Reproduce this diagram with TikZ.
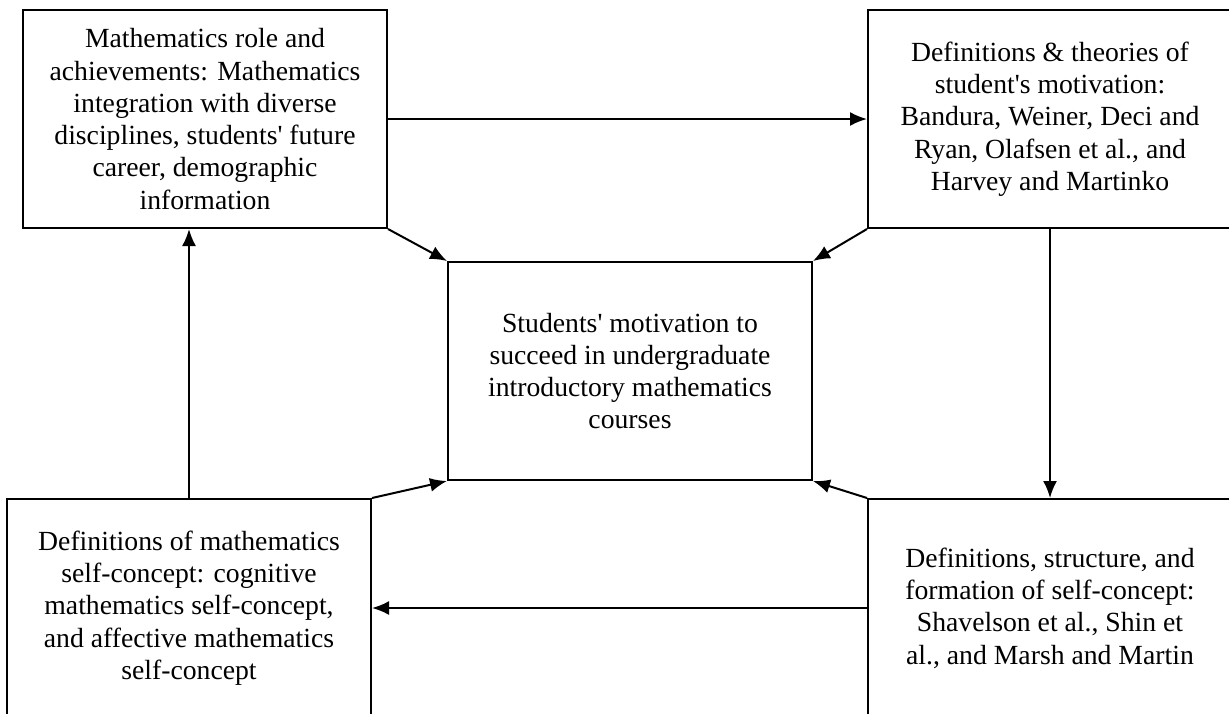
\documentclass[tikz,border=0pt]{standalone}
\usepackage{fontspec}
\setmainfont{Liberation Serif}
\usetikzlibrary{arrows.meta,positioning}
\newcommand{\q}{\textquotesingle}

\begin{document}
\begin{tikzpicture}[x=0.5pt, y=-0.5pt,
		box/.style={draw, line width=1pt, minimum width=182pt, minimum height=109pt,
			inner sep=0pt, align=center, font=\fontsize{13.85}{16.15}\selectfont},
		arr/.style={-{Latex[length=8.5pt,width=7pt]}, line width=1pt}]
		\useasboundingbox (0, 0) rectangle (1229, 713);
		\path (205, 119)   node[box] (role) {Mathematics role and\\achievements: Mathematics\\integration with diverse\\disciplines, students\q{} future\\career, demographic\\information}
		      (1050, 119)  node[box] (theo) {Definitions \& theories of\\student\q{}s motivation:\\Bandura, Weiner, Deci and\\Ryan, Olafsen et al., and\\Harvey and Martinko}
		      (630, 371)   node[box] (motiv) {Students\q{} motivation to\\succeed in undergraduate\\introductory mathematics\\courses}
		      (189, 608)   node[box] (mself) {Definitions of mathematics\\self-concept: cognitive\\mathematics self-concept,\\and affective mathematics\\self-concept}
		      (1050, 608)  node[box] (form) {Definitions, structure, and\\formation of self-concept:\\Shavelson et al., Shin et\\al., and Marsh and Martin};
		
		\draw[arr] (role) -- (theo);
		\draw[arr] (theo) -- (form);
		\draw[arr] (form) -- (mself);
		\draw[arr] (mself.north) -- (mself.north |- role.south);
		\draw[arr] (role.south east) -- (motiv.north west);
		\draw[arr] (theo.south west) -- (motiv.north east);
		\draw[arr] (mself.north east) -- (motiv.south west);
		\draw[arr] (form.north west) -- (motiv.south east);
	\end{tikzpicture}
\end{document}
